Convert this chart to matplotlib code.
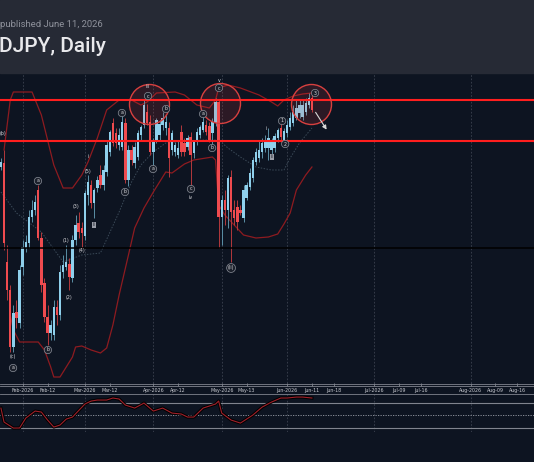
import numpy as np
import pandas as pd
import matplotlib
matplotlib.use("Agg")
import matplotlib.pyplot as plt
from matplotlib.lines import Line2D
from matplotlib.patches import Rectangle
import matplotlib.patheffects as pe

# === DATOS (USDJPY diario) ===
start_date = "2026-01-22"
last_date = "2026-06-11"

opens = [158.33, 158.37, 157.38, 157.10, 156.53, 156.88, 156.77, 157.33, 157.52, 157.57,
         157.83, 157.90, 158.10, 157.62, 157.17, 156.83, 156.67, 156.65, 156.93, 156.85,
         157.28, 157.33, 157.36, 157.22, 157.60, 157.77, 157.72, 157.64, 158.05, 158.15,
         157.97, 158.12, 158.25, 158.15, 158.28, 158.48, 158.77, 158.67, 158.55, 158.53,
         158.77, 158.20, 158.50, 158.37, 158.43, 158.65, 158.75, 158.88, 158.78, 158.48,
         158.60, 158.65, 158.75, 158.72, 158.72, 158.50, 158.48, 158.45, 158.68, 158.57,
         158.53, 158.63, 158.47, 158.58, 158.65, 158.70, 158.75, 158.74, 158.67, 158.77,
         158.98, 157.83, 158.00, 157.90, 158.23, 157.90, 157.93, 157.90, 157.82, 158.02,
         158.13, 158.22, 158.38, 158.42, 158.48, 158.52, 158.52, 158.50, 158.52, 158.62,
         158.72, 158.60, 158.67, 158.73, 158.77, 158.82, 158.87, 158.83, 158.88, 158.95,
         159.02]
highs = [158.42, 158.50, 157.55, 157.15, 156.95, 157.00, 157.35, 157.60, 157.65, 157.90,
         158.00, 158.05, 158.15, 157.68, 157.22, 156.95, 156.80, 157.00, 157.00, 157.35,
         157.45, 157.55, 157.42, 157.65, 157.85, 157.88, 157.78, 158.10, 158.25, 158.20,
         158.12, 158.24, 158.35, 158.35, 158.60, 158.70, 158.82, 158.72, 158.72, 158.85,
         158.82, 158.55, 158.55, 158.58, 158.70, 158.75, 159.00, 158.96, 158.85, 158.62,
         158.82, 158.80, 158.88, 158.85, 158.78, 158.70, 158.58, 158.60, 158.75, 158.62,
         158.65, 158.68, 158.60, 158.72, 158.75, 158.85, 158.80, 158.78, 158.82, 159.02,
         159.01, 158.05, 158.10, 158.25, 158.30, 158.00, 158.00, 157.95, 158.15, 158.18,
         158.32, 158.43, 158.52, 158.60, 158.62, 158.65, 158.72, 158.62, 158.67, 158.72,
         158.82, 158.72, 158.80, 158.88, 158.95, 159.00, 159.00, 159.00, 159.02, 159.07,
         159.06]
lows = [158.30, 157.50, 157.00, 156.48, 156.48, 156.72, 156.72, 157.25, 157.48, 157.52,
        157.78, 157.85, 157.60, 157.08, 156.78, 156.55, 156.60, 156.60, 156.75, 156.80,
        157.22, 157.30, 157.10, 157.18, 157.55, 157.62, 157.52, 157.60, 157.95, 157.92,
        157.82, 158.08, 158.12, 158.10, 158.24, 158.44, 158.54, 158.52, 158.50, 158.50,
        158.17, 158.14, 158.35, 158.32, 158.40, 158.60, 158.72, 158.75, 158.45, 158.35,
        158.57, 158.60, 158.70, 158.65, 158.23, 158.45, 158.44, 158.42, 158.44, 158.44,
        158.50, 158.15, 158.42, 158.55, 158.62, 158.68, 158.65, 158.58, 158.50, 158.74,
        157.52, 157.55, 157.75, 157.72, 157.38, 157.75, 157.70, 157.85, 157.78, 158.00,
        158.10, 158.18, 158.35, 158.38, 158.42, 158.48, 158.40, 158.45, 158.48, 158.58,
        158.58, 158.55, 158.63, 158.70, 158.74, 158.80, 158.82, 158.80, 158.85, 158.92,
        158.88]
closes = [158.38, 157.57, 157.10, 156.53, 156.87, 156.82, 157.30, 157.53, 157.58, 157.83,
          157.90, 157.98, 157.62, 157.15, 156.83, 156.67, 156.75, 156.93, 156.85, 157.28,
          157.35, 157.38, 157.23, 157.60, 157.75, 157.68, 157.67, 158.07, 158.18, 157.97,
          158.10, 158.20, 158.15, 158.30, 158.55, 158.68, 158.57, 158.57, 158.65, 158.78,
          158.20, 158.50, 158.40, 158.53, 158.67, 158.73, 158.95, 158.77, 158.48, 158.60,
          158.80, 158.76, 158.82, 158.78, 158.42, 158.67, 158.55, 158.52, 158.48, 158.48,
          158.62, 158.45, 158.58, 158.68, 158.73, 158.78, 158.68, 158.60, 158.78, 158.98,
          157.83, 158.00, 157.90, 158.22, 157.88, 157.82, 157.78, 157.87, 158.10, 158.15,
          158.27, 158.40, 158.48, 158.50, 158.57, 158.60, 158.62, 158.58, 158.64, 158.70,
          158.63, 158.69, 158.75, 158.82, 158.88, 158.92, 158.95, 158.95, 158.97, 159.02,
          158.90]

# Bandas de Bollinger (barra relativa a Feb 2 -> precio)
bb_up_bar = [-6, -5, -4, -3, 3, 6, 10, 13, 16, 19, 21, 24, 27, 31, 35, 38, 40, 43, 49, 52,
             56, 60, 62, 63, 66, 70, 76, 80, 82, 84, 87, 90, 93]
bb_up = [158.50, 158.75, 159.00, 159.08, 159.08, 158.85, 158.35, 158.12, 158.12, 158.25,
         158.38, 158.62, 158.90, 159.00, 159.00, 158.95, 158.98, 159.07, 159.08, 159.05,
         158.95, 158.92, 159.00, 159.12, 159.15, 159.12, 159.05, 158.98, 158.94, 159.00,
         159.04, 159.06, 159.07]
bb_mid_bar = [-7, -2, 6, 13, 19, 25, 31, 35, 38, 42, 46, 49, 58, 63, 66, 70, 75, 80, 84, 86, 89, 93]
bb_mid = [158.08, 157.87, 157.68, 157.38, 157.45, 157.47, 157.88, 158.18, 158.35, 158.48,
          158.57, 158.58, 158.60, 158.60, 158.52, 158.43, 158.33, 158.30, 158.30, 158.42,
          158.57, 158.72]
bb_low_bar = [-4, -3, -1, 5, 7, 9, 10, 12, 14, 16, 17, 19, 22, 25, 27, 29, 31, 34, 36, 39,
              42, 46, 48, 52, 55, 61, 62, 63, 65, 68, 71, 75, 79, 82, 84, 86, 88, 91, 93]
bb_low = [156.85, 156.70, 156.58, 156.58, 156.50, 156.33, 156.23, 156.23, 156.33, 156.43,
          156.53, 156.54, 156.50, 156.47, 156.52, 156.75, 157.05, 157.45, 157.72, 157.92,
          158.08, 158.28, 158.27, 158.36, 158.40, 158.43, 158.40, 157.95, 157.85, 157.75,
          157.65, 157.62, 157.63, 157.66, 157.76, 157.87, 158.10, 158.25, 158.33]

# Oscilador del panel inferior
osc_bar = [-7, -6, -3, -1, 1, 4, 6, 8, 10, 12, 14, 16, 20, 22, 24, 27, 29, 31, 33, 36,
           39, 42, 45, 48, 51, 53, 55, 58, 62, 63, 64, 67, 70, 74, 77, 80, 83, 85, 88, 90, 93]
osc = [61.5, 39.4, 29.9, 30.0, 45.7, 56.8, 55.2, 42.6, 31.5, 34.7, 44.1, 47.3, 67.9, 72.6,
       74.2, 74.2, 77.4, 75.8, 66.3, 61.5, 69.4, 56.8, 61.5, 53.6, 52.1, 47.3, 47.3, 61.5,
       67.9, 72.6, 53.6, 42.6, 37.8, 50.5, 63.1, 71.0, 77.4, 77.4, 78.9, 78.9, 77.4]
osc_levels = [70, 30]

# Niveles horizontales
resistance = [159.00, 158.59]
black_level = 157.52

# Círculos rojos (barra, precio)
circ_bar = [40.6, 63.4, 92.7]
circ_price = [158.96, 158.97, 158.96]

# Flecha proyectada
arrow_from = (93.7, 158.90)
arrow_to = (98.2, 158.68)

# Etiquetas Elliott: (texto, barra, precio, estilo)
waves = [("(b)", -6.3, 158.67, "plain"), ("(c)", -3.1, 156.43, "plain"), ("a", -3.1, 156.32, "circ"),
         ("a", 4.9, 158.19, "circ"), ("b", 8.1, 156.50, "circ"),
         ("(1)", 13.9, 157.59, "plain"), ("(2)", 14.9, 157.02, "plain"), ("(3)", 17.1, 157.93, "plain"),
         ("(4)", 19.1, 157.49, "plain"), ("(5)", 21.0, 158.28, "plain"), ("i", 21.0, 158.43, "plain"),
         ("ii", 22.9, 157.75, "box"),
         ("a", 31.9, 158.87, "circ"), ("b", 32.9, 158.08, "circ"), ("c", 40.3, 159.04, "circ"),
         ("iii", 40.3, 159.13, "plain"),
         ("a", 41.9, 158.31, "circ"), ("b", 46.1, 158.91, "circ"), ("c", 54.1, 158.11, "circ"),
         ("iv", 54.1, 158.02, "plain"),
         ("a", 58.0, 158.86, "circ"), ("b", 60.9, 158.52, "circ"), ("c", 63.1, 159.12, "circ"),
         ("v", 63.1, 159.20, "plain"),
         ("(ii)", 67.0, 157.32, "circ"),
         ("i", 78.2, 158.72, "plain"), ("ii", 80.2, 158.43, "box"),
         ("1", 83.4, 158.79, "circ"), ("2", 84.4, 158.56, "circ"), ("3", 94.0, 159.07, "circ")]

tick_labels = ["Feb-2026", "Feb-12", "Mar-2026", "Mar-12", "Apr-2026", "Apr-12", "May-2026", "May-13",
               "Jun-2026", "Jun-11", "Jun-18", "Jul-2026", "Jul-09", "Jul-16", "Aug-2026", "Aug-09", "Aug-16"]
tick_dates = ["2026-02-02", "2026-02-12", "2026-03-02", "2026-03-12", "2026-04-01", "2026-04-12",
              "2026-05-01", "2026-05-13", "2026-06-01", "2026-06-11", "2026-06-18", "2026-07-01",
              "2026-07-09", "2026-07-16", "2026-08-01", "2026-08-09", "2026-08-16"]
month_dates = ["2026-02-02", "2026-03-02", "2026-04-01", "2026-05-01", "2026-06-01", "2026-07-01", "2026-08-01"]

BG = "#0d1421"
HEADER = "#262a35"
BLUE = "#8fd0ec"
RED = "#ef4b4f"
BAND = "#8e1b20"
W, H = 534, 462


def date_pos(d):
    # barras hábiles hasta la última vela, días naturales en el futuro
    d = np.datetime64(d, "D")
    last = np.datetime64(last_date, "D")
    if d <= last:
        return int(np.busday_count("2026-02-02", d))
    return int(np.busday_count("2026-02-02", last)) + int((d - last).astype(int))


fig = plt.figure(figsize=(W / 100, H / 100), dpi=100, facecolor=BG)
fig.add_artist(Rectangle((0, 1 - 72.7 / H), 1, 72.7 / H, transform=fig.transFigure,
                         color=HEADER, zorder=0))
fig.text(0.0, 1 - 27 / H, "published June 11, 2026", color="#8f929c", fontsize=6.8,
         family="Roboto", va="baseline")
fig.text(-0.002, 1 - 51.7 / H, "DJPY, Daily", color="#e9e9ec", fontsize=15,
         family="Roboto", weight="medium", va="baseline")

XL = (-7.3, 164.4)

# === PANEL PRINCIPAL ===
ax = fig.add_axes([0, (H - 383) / H, 1, 310 / H])
ax.set_facecolor("none")
ax.set_xlim(*XL)
ax.set_ylim(156.17, 159.27)
for s in ax.spines.values():
    s.set_visible(False)
ax.set_yticks([])

dates = pd.bdate_range(start_date, last_date)
x = np.array([date_pos(d.date()) for d in dates])
o, h, l, c = map(np.array, (opens, highs, lows, closes))
up = c >= o
body_col = np.where(up, BLUE, RED)
wick_col = np.where(up, "#5b8fa6", "#b4393c")

months = [date_pos(d) for d in month_dates]
for m in months:
    ax.axvline(m, color="#3c4250", lw=0.6, ls=(0, (2, 2)), zorder=1)

ax.plot(bb_up_bar, bb_up, color=BAND, lw=0.9, zorder=2)
ax.plot(bb_low_bar, bb_low, color=BAND, lw=0.9, zorder=2)
ax.plot(bb_mid_bar, bb_mid, color="#3b4a58", lw=0.7, ls=(0, (1.5, 1.5)), zorder=2)

ax.vlines(x, l, h, colors=wick_col, lw=0.7, zorder=3)
ax.bar(x, c - o, bottom=o, width=0.78, color=body_col, lw=0, zorder=4)

for r in resistance:
    ax.axhline(r, color="#ff1e1e", lw=1.5, zorder=5)
ax.axhline(black_level, color="#000000", lw=1.1, zorder=5)

ax.scatter(circ_bar, circ_price, s=830, facecolor=(1.0, 0.25, 0.25, 0.13),
           edgecolor="#d8403f", lw=1.0, zorder=6)

ax.annotate("", xy=arrow_to, xytext=arrow_from,
            arrowprops=dict(arrowstyle="-|>", color="#d9d9d9", lw=0.8, mutation_scale=6), zorder=7)

for t, bx, py, st in waves:
    kw = dict(fontsize=3.4, color="#d4d4d8", ha="center", va="center", zorder=8)
    if st == "circ":
        kw["bbox"] = dict(boxstyle="circle,pad=0.25", fc="#1b202b", ec="#8a8f99", lw=0.5)
    elif st == "box":
        kw["bbox"] = dict(boxstyle="square,pad=0.2", fc="#9a9ea8", ec="none")
        kw["color"] = "#20242e"
    ax.text(bx, py, t, **kw)

ax.set_xticks([date_pos(d) for d in tick_dates])
ax.set_xticklabels(tick_labels)
ax.tick_params(axis="x", length=2.5, width=0.5, color="#9a9ea8", labelsize=3.4,
               labelcolor="#c8cad0", pad=1.2)

# líneas de separación del eje de fechas
for yy in (383.5, 386.0, 393.5):
    fig.add_artist(Line2D([0, 1], [1 - yy / H, 1 - yy / H], transform=fig.transFigure,
                          color="#80848e", lw=0.6))

# === PANEL INFERIOR ===
ax2 = fig.add_axes([0, (H - 432) / H, 1, 38 / H])
ax2.set_facecolor("none")
ax2.set_xlim(*XL)
ax2.set_ylim(23.7, 83.75)
for s in ax2.spines.values():
    s.set_visible(False)
ax2.set_xticks([])
ax2.set_yticks([])
for m in months:
    ax2.axvline(m, color="#3c4250", lw=0.6, ls=(0, (2, 2)))
for lv in osc_levels:
    ax2.axhline(lv, color="#80848e", lw=0.8)
ax2.axhline(50, color="#9a9ea8", lw=0.6, ls=(0, (1.5, 1.5)))
ax2.plot(osc_bar, osc, color="#a0202a", lw=0.8,
         path_effects=[pe.withStroke(linewidth=2.2, foreground="#000000")])

fig.savefig("out.png", dpi=100, facecolor=BG)
